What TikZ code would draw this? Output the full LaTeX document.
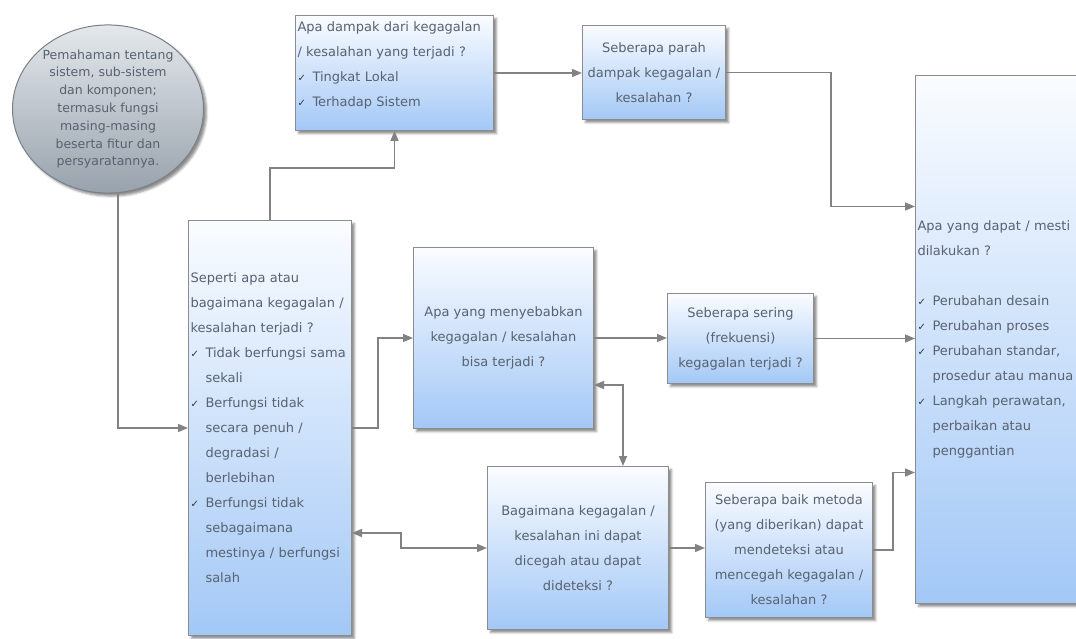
\documentclass[tikz,border=0pt]{standalone}
\usepackage{fontspec}
\setmainfont{DejaVu Sans}
\usepackage{tikz}
\usetikzlibrary{calc, shapes.geometric, positioning, arrows.meta, shadows.blur}

\definecolor{boxtop}{RGB}{250,252,255}
\definecolor{boxbot}{RGB}{163,200,246}
\definecolor{boxline}{RGB}{140,140,140}
\definecolor{elltop}{RGB}{228,232,236}
\definecolor{ellbot}{RGB}{152,162,172}
\definecolor{elledge}{RGB}{120,128,136}
\definecolor{linegray}{RGB}{130,130,130}
\definecolor{txtgray}{RGB}{88,98,112}
\definecolor{chkgray}{RGB}{45,52,62}

\newcommand{\chk}{\makebox[15pt][l]{\color{chkgray}\fontsize{10}{10}\selectfont ✓}}
\newcommand{\ind}{\hspace*{15pt}}

\begin{document}
\begin{tikzpicture}[x=1pt,y=-1pt,>={Triangle[length=10pt,width=8pt]},
  askbox/.style={draw=boxline, line width=1pt, top color=boxtop, bottom color=boxbot,
    anchor=north west, inner sep=2pt, text=txtgray, font=\fontsize{13}{25}\selectfont,
    blur shadow={shadow xshift=3pt, shadow yshift=-3pt, shadow opacity=45}},
  leftbox/.style={askbox, align=left},
  midbox/.style={askbox, align=center},
  infoell/.style={ellipse, draw=elledge, line width=1pt, top color=elltop, bottom color=ellbot,
    minimum width=191pt, minimum height=168pt, inner sep=0pt, align=center, text=txtgray,
    font=\fontsize{12.5}{17.8}\selectfont,
    blur shadow={shadow xshift=3pt, shadow yshift=-3pt, shadow opacity=45}},
  conn/.style={draw=linegray, line width=1.6pt, ->}]
\useasboundingbox (0,0) rectangle (1076,639);

% ellips kiri atas
\node[infoell] (ell) at (108,109) {Pemahaman tentang\\ sistem, sub-sistem\\ dan komponen;\\ termasuk fungsi\\ masing-masing\\ beserta fitur dan\\ persyaratannya.};

\node[leftbox, minimum width=163pt, minimum height=415pt, text width=159pt] (sys) at (188,220)
  {Seperti apa atau\\ bagaimana kegagalan /\\ kesalahan terjadi ?\\ \chk Tidak berfungsi sama\\ \ind sekali\\ \chk Berfungsi tidak\\ \ind secara penuh /\\ \ind degradasi /\\ \ind berlebihan\\ \chk Berfungsi tidak\\ \ind sebagaimana\\ \ind mestinya / berfungsi\\ \ind salah};
\node[leftbox, minimum width=198pt, minimum height=115pt, text width=194pt] (impact) at (295,15)
  {Apa dampak dari kegagalan\\ / kesalahan yang terjadi ?\\ \chk Tingkat Lokal\\ \chk Terhadap Sistem\\[-7pt]\mbox{}};
\node[midbox, minimum width=143pt, minimum height=94pt] (severity) at (582,25)
  {Seberapa parah\\ dampak kegagalan /\\ kesalahan ?};
\node[midbox, minimum width=180pt, minimum height=181pt] (cause) at (413,247)
  {Apa yang menyebabkan\\ kegagalan / kesalahan\\ bisa terjadi ?};
\node[midbox, minimum width=146pt, minimum height=90pt] (freq) at (667,293)
  {Seberapa sering\\ (frekuensi)\\ kegagalan terjadi ?};
\node[midbox, minimum width=181pt, minimum height=163pt] (prevent) at (487,466)
  {Bagaimana kegagalan /\\ kesalahan ini dapat\\ dicegah atau dapat\\ dideteksi ?};
\node[midbox, minimum width=167pt, minimum height=135pt] (detect) at (705,482)
  {Seberapa baik metoda\\ (yang diberikan) dapat\\ mendeteksi atau\\ mencegah kegagalan /\\ kesalahan ?};
\node[leftbox, minimum width=200pt, minimum height=528pt, text width=196pt] (act) at (915,75)
  {Apa yang dapat / mesti\\ dilakukan ?\\[25pt] \chk Perubahan desain\\ \chk Perubahan proses\\ \chk Perubahan standar,\\ \ind prosedur atau manua\\ \chk Langkah perawatan,\\ \ind perbaikan atau\\ \ind penggantian};

\coordinate (actin1) at ([yshift=133pt]act.west);
\coordinate (actin3) at ([yshift=-133pt]act.west);

% penghubung
\draw[conn] ([xshift=10pt]ell.south) |- (sys.west);
\draw[conn] (sys.north) -- ++(0,-52) -| (impact.south);
\draw[conn] (sys.east) -- ++(26,0) |- (cause.west);
\draw[conn, <->] ([yshift=-105pt]sys.east) -- ++(49,0) |- (prevent.west);
\draw[conn] (impact.east) -- (impact.east -| severity.west);
\draw[conn] (severity.east) -- ++(105,0) |- (actin1);
\draw[conn] (cause.east) -- (cause.east -| freq.west);
\draw[conn] (freq.east) -- (freq.east -| act.west);
\draw[conn, <->] ([yshift=-47pt]cause.east) -| ([xshift=45pt]prevent.north);
\draw[conn] (prevent.east) -- (prevent.east -| detect.west);
\draw[conn] (detect.east) -- ++(20,0) |- (actin3);
\end{tikzpicture}
\end{document}
